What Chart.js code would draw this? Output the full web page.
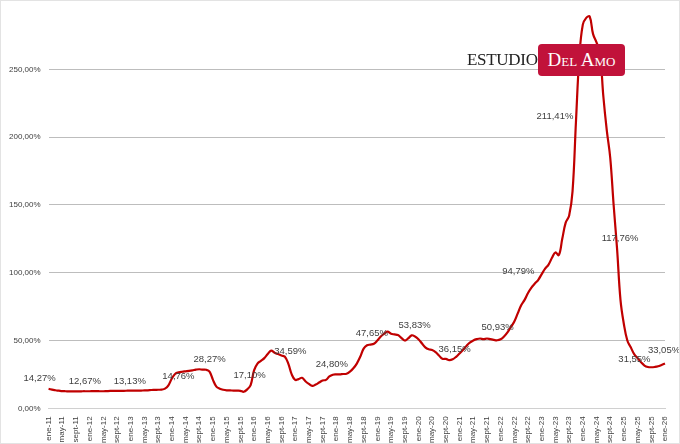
<!DOCTYPE html>
<html><head><meta charset="utf-8">
<script src="https://cdn.jsdelivr.net/npm/chart.js@4"></script>
<style>
html,body{margin:0;padding:0;background:#fff;}
#wrap{position:relative;width:680px;height:444px;box-sizing:border-box;border:1px solid #e3e3e3;}
#logo{position:absolute;left:466px;top:43px;height:32px;font-family:"Liberation Serif","DejaVu Serif",serif;}
#logo .a{position:absolute;left:0;top:6px;width:68px;font-size:17px;color:#222;letter-spacing:-0.3px;white-space:nowrap;}
#logo .b{position:absolute;left:71px;top:0;background:#c1123a;color:#fff;border-radius:4px;height:32px;width:87px;display:flex;align-items:center;justify-content:center;font-size:19px;font-variant:small-caps;}
</style></head><body>
<div id="wrap"><canvas id="c" width="678" height="442"></canvas>
<div id="logo"><span class="a">ESTUDIO</span><span class="b">Del Amo</span></div></div>
<script>
const monthNames=['ene','feb','mar','abr','may','jun','jul','ago','sept','oct','nov','dic'];
const startYear=11;
const values=[
14.3,13.8,13.3,13.0,12.7,12.6,12.5,12.5,12.5,12.5,12.6,12.6,
12.6,12.7,12.7,12.6,12.6,12.7,12.8,12.8,12.8,12.9,12.9,13.0,
13.1,13.0,13.0,13.1,13.2,13.3,13.5,13.6,13.7,13.8,14.5,17.0,
22.0,25.5,26.5,27.0,27.3,27.6,28.0,28.5,28.8,28.5,28.4,27.0,
21.0,16.0,14.5,13.7,13.3,13.2,13.1,13.0,12.9,12.2,14.0,17.1,
28.0,33.0,35.0,37.0,40.0,42.5,41.0,40.0,39.0,38.0,33.0,25.0,
21.0,21.5,22.5,20.0,18.0,16.5,17.5,19.0,20.5,21.0,23.5,24.8,
25.0,25.0,25.3,25.5,27.0,29.5,33.0,38.0,44.0,46.5,47.0,47.65,
50.0,53.0,55.0,56.5,55.0,54.5,54.0,52.0,50.0,51.5,53.83,53.0,
51.0,48.0,45.0,43.5,43.0,41.5,39.0,36.5,36.5,35.5,36.15,38.0,
40.5,43.0,46.0,48.5,50.0,51.0,51.5,51.0,51.5,51.0,50.5,50.2,
50.93,53.0,56.0,60.0,64.0,70.0,76.0,80.0,85.0,89.0,92.0,94.79,
99.0,103.0,106.0,111.0,115.0,113.0,125.0,137.0,142.0,160.0,211.41,260.0,
283.0,288.0,289.0,276.0,270.0,262.0,230.0,205.0,185.0,150.0,117.76,80.0,
62.0,50.0,45.0,40.0,37.0,34.0,31.55,30.5,30.3,30.5,31.0,32.0,
33.05];
const labels=values.map((v,i)=>monthNames[i%12]+'-'+(startYear+Math.floor(i/12)));
const yTicks=[0,50,100,150,200,250];
const annIdx=[0,10,24,35,47,59,70,83,95,106,118,132,143,154,166,174,180];
const annText=['14,27%','12,67%','13,13%','14,76%','28,27%','17,10%','34,59%','24,80%','47,65%','53,83%','36,15%','50,93%','94,79%','211,41%','117,76%','31,55%','33,05%'];
const annDx=[-9,2,-1,10,0,-1,2,-1,-2,3,2,-3,-20,-21,3,-10,-1];
const annDy=[-11,-10,-9,-9,-12,-10,-12,-10,-10,-10,-10,-12,-8,-5,-10,-6,-13];

const annPlugin={id:'ann',afterDatasetsDraw(chart){
  const {ctx,scales:{x,y}}=chart;
  ctx.save();ctx.font='9.5px "Liberation Sans", Arial, sans-serif';ctx.fillStyle='#404040';
  ctx.textAlign='center';ctx.textBaseline='middle';
  annIdx.forEach((idx,k)=>{
    ctx.fillText(annText[k],x.getPixelForValue(idx)+annDx[k],y.getPixelForValue(values[idx])+annDy[k]);
  });
  ctx.restore();
}};
new Chart(document.getElementById('c'),{
  type:'line',
  data:{labels:labels,datasets:[{data:values,borderColor:'#c00000',borderWidth:2.2,pointRadius:0,tension:0.4,fill:false}]},
  options:{responsive:false,animation:false,
    layout:{padding:{left:0,right:14,top:0,bottom:0}},
    plugins:{legend:{display:false},tooltip:{enabled:false}},
    scales:{
      x:{offset:false,grid:{display:false},border:{color:'#d0d0d0'},
        ticks:{autoSkip:false,maxRotation:90,minRotation:90,padding:0,color:'#404040',font:{size:8,family:'"Liberation Sans", Arial, sans-serif'},
          callback:function(v,i){return i%4===0?labels[i]:'';}}},
      y:{min:0,max:291,afterBuildTicks:(s)=>{s.ticks=yTicks.map(v=>({value:v}));},
        grid:{color:'#bdbdbd',lineWidth:1,drawTicks:false},border:{display:false},
        ticks:{padding:8,color:'#404040',font:{size:8,family:'"Liberation Sans", Arial, sans-serif'},
          callback:v=>v.toFixed(2).replace('.',',')+'%'}}
    }
  },
  plugins:[annPlugin]
});
</script></body></html>
